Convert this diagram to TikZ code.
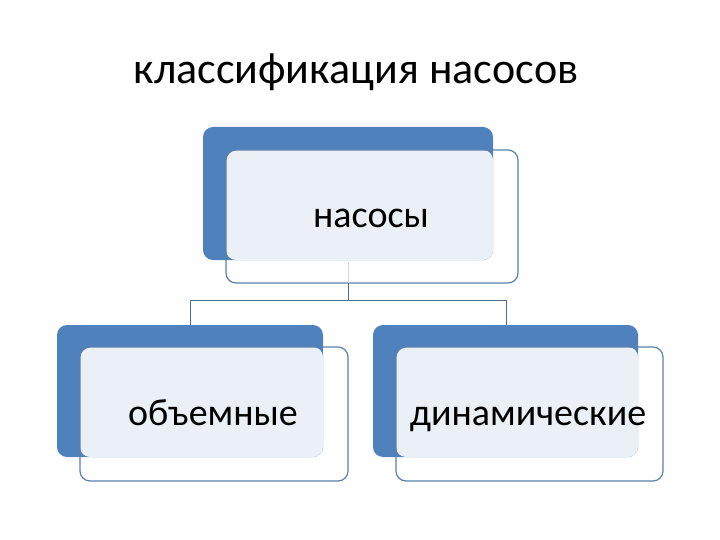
\documentclass[tikz,border=0pt]{standalone}
\usepackage{fontspec}
\setmainfont{Carlito}
\definecolor{bb}{HTML}{4F81BD}
\definecolor{lt}{HTML}{EBF0F7}
\definecolor{fr}{HTML}{5C80AC}
\definecolor{ln}{HTML}{4D6E8F}
\begin{document}
\begin{tikzpicture}[x=1pt,y=-1pt,
  blue/.style={fill=bb,rounded corners=10pt},
  tint/.style={fill=lt,rounded corners=10pt},
  frame/.style={draw=fr,line width=1.2pt,rounded corners=10pt},
  conn/.style={draw=ln,line width=1pt},
  lbl/.style={font=\fontsize{38}{42}\selectfont,anchor=base,inner sep=0pt}]
\useasboundingbox (0,0) rectangle (720,540);
\node[font=\fontsize{44}{48}\selectfont,anchor=base,inner sep=0pt] (title) at (356,84) {классификация насосов};
% top
\fill[blue] (203,127) rectangle (493,260);
\fill[tint] (226,150) rectangle (493,260);
\draw[frame] (226,150) rectangle (518,283);
\node[lbl] (top) at (371,227) {насосы};
% left
\fill[blue] (57,325) rectangle (323,457);
\fill[tint] (80,347) rectangle (323,457);
\draw[frame] (80,347) rectangle (348,481);
\node[lbl] (left) at (213,425) {объемные};
% right
\fill[blue] (373,325) rectangle (638,457);
\fill[tint] (396,347) rectangle (638,457);
\draw[frame] (396,347) rectangle (663,481);
\node[lbl] (right) at (528,425) {динамические};
\coordinate (a) at (348,283);
\coordinate (b) at (348,300);
\coordinate (l) at (190,300);
\coordinate (r) at (506,300);
\coordinate (l2) at (190,325);
\coordinate (r2) at (506,325);
\draw[draw=lt!80!gray,line width=0.6pt] (348,262) -- (a);
\draw[conn] (a) -- (b) (l2) -- (l) -- (r) -- (r2);
\end{tikzpicture}
\end{document}
